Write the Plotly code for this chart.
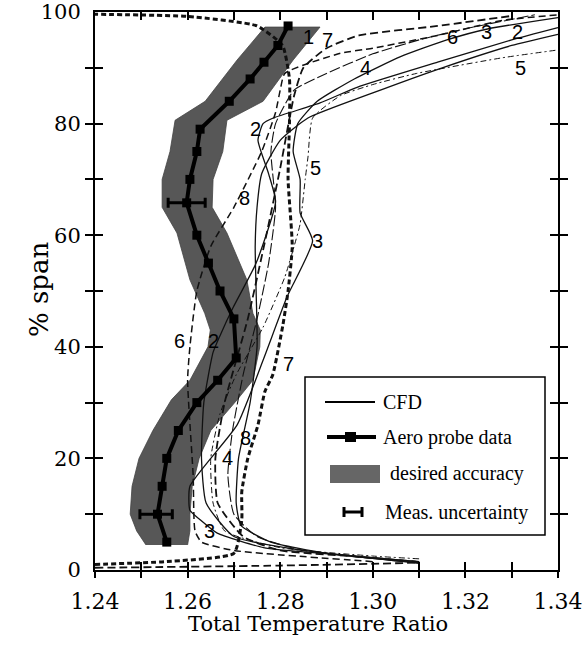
import plotly.graph_objects as go

# ---------------- data ----------------
x_ticks = [1.24, 1.25, 1.26, 1.27, 1.28, 1.29, 1.30, 1.31, 1.32, 1.33, 1.34]
x_ticktext = ["1.24", "", "1.26", "", "1.28", "", "1.30", "", "1.32", "", "1.34"]
y_ticks = [0, 10, 20, 30, 40, 50, 60, 70, 80, 90, 100]
y_ticktext = ["0", "", "20", "", "40", "", "60", "", "80", "", "100"]

# CFD curves (Total Temperature Ratio vs % span)
c1_y = [0.4, 0.8, 1.4, 2.5, 3.5, 6, 12, 20, 30, 45, 60, 72, 85, 90, 93.5, 95.8, 97.5, 99.3]
c1_x = [1.24, 1.28, 1.31, 1.295, 1.28, 1.272, 1.2665, 1.266, 1.268, 1.273, 1.277, 1.280, 1.283, 1.285, 1.29, 1.297, 1.314, 1.33]

c2_y = [1.2, 3.5, 6, 12, 20, 30, 39, 42, 47, 55, 66, 71, 77, 80, 81, 83.7, 86.5, 91, 95, 97.2]
c2_x = [1.31, 1.285, 1.27, 1.264, 1.263, 1.2635, 1.2655, 1.267, 1.2698, 1.2748, 1.279, 1.2775, 1.2752, 1.2763, 1.2785, 1.2886, 1.2966, 1.314, 1.33, 1.34]

c3_y = [1.5, 3.6, 4, 6.6, 9, 10.7, 15, 26, 37.6, 49, 59, 64, 70, 75, 80, 84, 88, 92, 95, 97, 99]
c3_x = [1.31, 1.28, 1.2764, 1.2664, 1.2627, 1.2605, 1.2605, 1.2707, 1.2763, 1.2815, 1.287, 1.2843, 1.2843, 1.2828, 1.2838, 1.288, 1.296, 1.306, 1.316, 1.325, 1.34]

c4_y = [1.5, 3.5, 6, 10, 17, 25, 35, 45, 55, 65, 75, 80, 86, 89, 92.5, 95, 97, 99.5]
c4_x = [1.31, 1.285, 1.275, 1.27, 1.2687, 1.2697, 1.272, 1.275, 1.2775, 1.279, 1.278, 1.279, 1.283, 1.29, 1.30, 1.31, 1.32, 1.335]

c5_y = [2, 2.5, 4, 7, 12, 20, 28, 35, 43.5, 52.5, 58, 62, 70, 74, 81, 85, 87, 89, 91.8, 93.2]
c5_x = [1.31, 1.30, 1.28, 1.268, 1.2655, 1.265, 1.267, 1.2705, 1.2763, 1.281, 1.283, 1.2843, 1.2854, 1.286, 1.287, 1.293, 1.30, 1.3095, 1.328, 1.34]

c6_y = [1.5, 3.5, 5, 7, 17, 34, 40, 50, 58, 65, 75, 82, 86, 89, 92.6, 93.5, 95.8, 98.5, 99.5]
c6_x = [1.30, 1.27, 1.263, 1.2616, 1.2612, 1.26, 1.2605, 1.262, 1.265, 1.27, 1.276, 1.279, 1.28, 1.281, 1.293, 1.30, 1.314, 1.328, 1.34]

c7_y = [1.0, 1.5, 3, 9, 14, 20, 26, 32, 35, 44, 50, 58, 70, 80, 88, 94, 97.5, 99.2, 99.6]
c7_x = [1.24, 1.255, 1.27, 1.2717, 1.2717, 1.273, 1.2752, 1.2767, 1.2784, 1.2806, 1.2817, 1.2826, 1.2817, 1.282, 1.282, 1.2805, 1.275, 1.26, 1.24]

c8_y = [1.3, 3, 5, 8, 12, 20, 30, 40, 50, 58, 65, 71, 77, 81, 85.5, 90, 94, 96]
c8_x = [1.31, 1.29, 1.278, 1.2715, 1.2705, 1.271, 1.2735, 1.275, 1.2748, 1.2746, 1.275, 1.276, 1.28, 1.286, 1.30, 1.315, 1.33, 1.34]

# Aero probe data
probe_y = [5, 10, 15, 20, 25, 30, 34, 38, 45, 50, 55, 60, 65.8, 70, 75, 79, 84, 88, 91, 94, 97.5]
probe_x = [1.2555, 1.2535, 1.2545, 1.2555, 1.258, 1.262, 1.2665, 1.2705, 1.2700, 1.267, 1.2645, 1.262,
           1.2598, 1.2605, 1.262, 1.2627, 1.2690, 1.2735, 1.2765, 1.2795, 1.2817]

# desired accuracy band
band_y = [4.5, 7, 10, 15, 20, 25, 30.5, 34, 40, 43, 46, 52, 60.4, 65, 70, 75, 80.6, 84, 91.4, 97.3]
band_lo = [1.251, 1.249, 1.2476, 1.248, 1.2495, 1.2525, 1.2565, 1.2605, 1.2644, 1.2649, 1.2637, 1.2605,
           1.2577, 1.2545, 1.2545, 1.2562, 1.2573, 1.2638, 1.2707, 1.2767]
band_hi = [1.2600, 1.2605, 1.2605, 1.261, 1.2625, 1.265, 1.2707, 1.2741, 1.2756, 1.2757, 1.2741, 1.2728,
           1.2685, 1.2653, 1.2655, 1.2676, 1.2685, 1.2763, 1.2828, 1.2886]

# measurement uncertainty
unc_y = [10, 65.8]
unc_x = [1.2532, 1.2598]
unc_err = [0.0035, 0.004]

# curve labels
lab_text = ["1", "6", "3", "2", "5", "4", "7", "2", "5", "8", "3", "6", "2", "7", "8", "4", "3"]
lab_x = [1.2862, 1.3172, 1.3245, 1.3312, 1.3318, 1.2985, 1.2903, 1.2746, 1.2877, 1.2722, 1.2880,
         1.2583, 1.2655, 1.2817, 1.2724, 1.2687, 1.2648]
lab_y = [95.6, 95.6, 96.4, 96.4, 90.0, 90.0, 95.0, 79.0, 72.0, 66.7, 59.0, 41.0, 41.0, 37.0, 23.6, 20.0, 7.0]

legend_labels = ["CFD", "Aero probe data", "desired accuracy", "Meas. uncertainty"]

# ---------------- figure ----------------
FIG_W, FIG_H = 583, 663
PLOT_L, PLOT_R, PLOT_T, PLOT_B = 95, 558, 12, 570  # pixels of the plot area

fig = go.Figure()

band_x = band_lo + band_hi[::-1]
band_yy = band_y + band_y[::-1]
fig.add_trace(go.Scatter(x=band_x, y=band_yy, fill="toself", fillcolor="#575757",
                         line=dict(color="#444", width=0.8), mode="lines",
                         hoverinfo="skip", showlegend=False))

styles = {
    "c1": dict(color="#111", width=1.8, dash="8px,4px"),
    "c2": dict(color="#111", width=1.3, dash="solid"),
    "c3": dict(color="#111", width=1.3, dash="solid"),
    "c4": dict(color="#111", width=1.1, dash="11px,3px"),
    "c5": dict(color="#111", width=1.0, dash="6px,3px,2px,3px"),
    "c6": dict(color="#111", width=1.5, dash="7px,4px"),
    "c7": dict(color="#111", width=3.0, dash="5px,3px"),
    "c8": dict(color="#111", width=1.3, dash="solid"),
}
curves = {"c1": (c1_x, c1_y), "c2": (c2_x, c2_y), "c3": (c3_x, c3_y), "c4": (c4_x, c4_y),
          "c5": (c5_x, c5_y), "c6": (c6_x, c6_y), "c7": (c7_x, c7_y), "c8": (c8_x, c8_y)}
for k, (cx, cy) in curves.items():
    fig.add_trace(go.Scatter(x=cx, y=cy, mode="lines", line=dict(shape="spline", smoothing=0.5, **styles[k]),
                             showlegend=False, hoverinfo="skip"))

fig.add_trace(go.Scatter(x=probe_x, y=probe_y, mode="lines+markers",
                         line=dict(color="black", width=4),
                         marker=dict(symbol="square", size=9, color="black"),
                         showlegend=False))

fig.add_trace(go.Scatter(x=unc_x, y=unc_y, mode="markers",
                         marker=dict(size=1, color="black"),
                         error_x=dict(type="data", array=unc_err, color="black", thickness=3, width=5),
                         showlegend=False))

# invisible trace for the overlaying bottom axis (crossing ticks)
fig.add_trace(go.Scatter(x=[1.24], y=[0], xaxis="x2", mode="markers", marker=dict(opacity=0),
                         showlegend=False, hoverinfo="skip"))

for t, lx, ly in zip(lab_text, lab_x, lab_y):
    fig.add_annotation(x=lx, y=ly, text=t, showarrow=False,
                       font=dict(family="Liberation Sans", size=20, color="black"))

serif = "DejaVu Serif"
leg_font = "Liberation Serif"

# legend box (paper coordinates from pixels)
def px2paper_x(p):
    return (p - PLOT_L) / (PLOT_R - PLOT_L)

def py2paper_y(p):
    return (PLOT_B - p) / (PLOT_B - PLOT_T)

fig.add_shape(type="rect", xref="paper", yref="paper",
              x0=px2paper_x(305), x1=px2paper_x(545), y0=py2paper_y(535), y1=py2paper_y(377),
              line=dict(color="black", width=1.5), fillcolor="white", layer="above")
fig.add_shape(type="line", xref="paper", yref="paper",
              x0=px2paper_x(325), x1=px2paper_x(375), y0=py2paper_y(402), y1=py2paper_y(402),
              line=dict(color="black", width=2), layer="above")
fig.add_shape(type="line", xref="paper", yref="paper",
              x0=px2paper_x(327), x1=px2paper_x(376), y0=py2paper_y(437), y1=py2paper_y(437),
              line=dict(color="black", width=4), layer="above")
fig.add_shape(type="rect", xref="paper", yref="paper",
              x0=px2paper_x(345), x1=px2paper_x(356), y0=py2paper_y(442), y1=py2paper_y(432),
              line=dict(color="black", width=0), fillcolor="black", layer="above")
fig.add_shape(type="rect", xref="paper", yref="paper",
              x0=px2paper_x(330), x1=px2paper_x(380), y0=py2paper_y(483), y1=py2paper_y(465),
              line=dict(color="#666", width=0), fillcolor="#666666", layer="above")
fig.add_shape(type="line", xref="paper", yref="paper",
              x0=px2paper_x(344), x1=px2paper_x(362), y0=py2paper_y(512), y1=py2paper_y(512),
              line=dict(color="black", width=3), layer="above")
for ex in (344, 362):
    fig.add_shape(type="line", xref="paper", yref="paper",
                  x0=px2paper_x(ex), x1=px2paper_x(ex), y0=py2paper_y(507), y1=py2paper_y(517),
                  line=dict(color="black", width=3), layer="above")

leg_px = [381, 381, 388, 383]
leg_py = [402, 437, 474, 512]
for t, lxp, lyp in zip(legend_labels, leg_px, leg_py):
    fig.add_annotation(xref="paper", yref="paper", x=px2paper_x(lxp), y=py2paper_y(lyp),
                       xanchor="left", yanchor="middle", text=t, showarrow=False,
                       font=dict(family=leg_font, size=20, color="black"))

# axis titles
fig.add_annotation(xref="paper", yref="paper", x=px2paper_x(318), y=py2paper_y(638),
                   text="Total Temperature Ratio", showarrow=False,
                   font=dict(family=serif, size=21, color="black"))
fig.add_annotation(xref="paper", yref="paper", x=px2paper_x(22), y=py2paper_y(290),
                   text="% span", textangle=-90, showarrow=False,
                   font=dict(family=serif, size=26, color="black"))

fig.update_layout(
    width=FIG_W, height=FIG_H,
    margin=dict(l=PLOT_L, r=FIG_W - PLOT_R, t=PLOT_T, b=FIG_H - PLOT_B),
    paper_bgcolor="white", plot_bgcolor="white",
    showlegend=False,
    xaxis=dict(range=[1.24, 1.34], tickvals=x_ticks, ticktext=x_ticktext,
               ticks="inside", ticklen=8, tickwidth=2, tickcolor="black",
               showline=True, linecolor="black", linewidth=2, mirror="allticks",
               showgrid=False, zeroline=False, ticklabelstandoff=11, automargin=False,
               ticklabeloverflow="allow",
               tickfont=dict(family=serif, size=22, color="black")),
    xaxis2=dict(range=[1.24, 1.34], overlaying="x", anchor="y", side="bottom",
                tickvals=x_ticks, showticklabels=False, ticks="outside", ticklen=7,
                tickwidth=2, tickcolor="black", showline=False, showgrid=False, zeroline=False,
                automargin=False),
    yaxis=dict(range=[0, 100], tickvals=y_ticks, ticktext=y_ticktext,
               ticks="inside", ticklen=8, tickwidth=2, tickcolor="black",
               showline=True, linecolor="black", linewidth=2, mirror="allticks",
               showgrid=False, zeroline=False, ticklabelstandoff=8, automargin=False,
               ticklabeloverflow="allow",
               tickfont=dict(family=serif, size=21, color="black")),
)

# remove the default page margin so the figure sits at the window's top-left corner
fig.write_html("out.html", config={"displayModeBar": False},
               post_script="document.body.style.margin='0';document.body.style.overflow='hidden';")
